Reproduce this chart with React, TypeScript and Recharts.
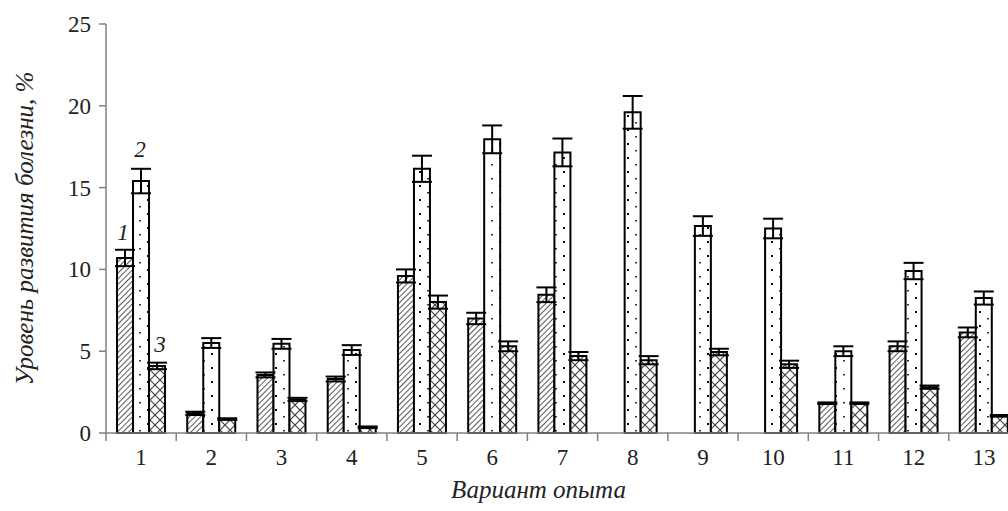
import React from 'react';
import { BarChart, Bar, XAxis, YAxis, ErrorBar, LabelList } from 'recharts';

const categories = ['1', '2', '3', '4', '5', '6', '7', '8', '9', '10', '11', '12', '13'];
const series1 = [10.7, 1.2, 3.55, 3.3, 9.6, 7.0, 8.45, null, null, null, 1.82, 5.3, 6.15];
const series2 = [15.4, 5.5, 5.45, 5.07, 16.15, 17.95, 17.15, 19.6, 12.65, 12.5, 5.0, 9.9, 8.25];
const series3 = [4.1, 0.85, 2.05, 0.35, 8.0, 5.3, 4.7, 4.45, 4.95, 4.2, 1.82, 2.8, 1.05];
const errors1 = [0.5, 0.1, 0.15, 0.15, 0.4, 0.35, 0.45, null, null, null, 0.05, 0.3, 0.3];
const errors2 = [0.75, 0.3, 0.3, 0.3, 0.8, 0.85, 0.85, 1.0, 0.6, 0.6, 0.3, 0.5, 0.4];
const errors3 = [0.2, 0.05, 0.1, 0.05, 0.4, 0.3, 0.25, 0.25, 0.2, 0.22, 0.05, 0.1, 0.05];
const yTicks = [0, 5, 10, 15, 20, 25];
const seriesLabels = ['1', '2', '3'];
const yTitle = 'Уровень развития болезни, %';
const xTitle = 'Вариант опыта';

const data = categories.map((c, i) => ({
  name: c,
  s1: series1[i],
  s2: series2[i],
  s3: series3[i],
  e1: errors1[i],
  e2: errors2[i],
  e3: errors3[i],
}));

const FONT = "'Times New Roman', 'Liberation Serif', 'DejaVu Serif', serif";
const AXIS = '#808080';
const txt = { fontFamily: FONT, fontSize: '23px', fill: '#222' };
const itxt = { ...txt, fontStyle: 'italic' };
const ttl = { ...itxt, fontSize: '25px' };

const XTick = (props: any) => {
  const { x, y, payload, index } = props;
  const off = payload && payload.offset != null ? payload.offset : 0;
  return (
    <g>
      <line x1={x - off} x2={x - off} y1={y} y2={y + 8} stroke={AXIS} strokeWidth={1.5} />
      {index === categories.length - 1 && (
        <line x1={x + off} x2={x + off} y1={y} y2={y + 8} stroke={AXIS} strokeWidth={1.5} />
      )}
      <text x={x} y={y + 32} textAnchor="middle" style={txt}>
        {payload.value}
      </text>
    </g>
  );
};

const YTick = (props: any) => {
  const { x, y, payload } = props;
  return (
    <text x={x} y={y + 8} textAnchor="end" style={txt}>
      {payload.value}
    </text>
  );
};

const makeSeriesLabel = (text: string, dx: number, dy: number) => (props: any) => {
  const { x, y, width, index } = props;
  if (index !== 0) return null;
  return (
    <text x={Number(x) + Number(width) / 2 + dx} y={Number(y) - dy} textAnchor="middle" style={itxt}>
      {text}
    </text>
  );
};

const YTitle = (props: any) => {
  const vb = props.viewBox || {};
  const cx = (vb.x || 0) + 33;
  const cy = (vb.y || 0) + (vb.height || 0) / 2;
  return (
    <text x={cx} y={cy} transform={`rotate(-90 ${cx} ${cy})`} textAnchor="middle" style={ttl}>
      {yTitle}
    </text>
  );
};

const XTitle = (props: any) => {
  const vb = props.viewBox || {};
  const cx = (vb.x || 0) + (vb.width || 0) / 2 - 24;
  const cy = (vb.y || 0) + 65;
  return (
    <text x={cx} y={cy} textAnchor="middle" style={ttl}>
      {xTitle}
    </text>
  );
};

export default function App() {
  return (
    <div style={{ position: 'absolute', left: 0, top: 0, width: 1008, height: 511, overflow: 'hidden', background: '#fff' }}>
      <BarChart
        width={1030}
        height={511}
        data={data}
        margin={{ top: 24, right: 11, left: 0, bottom: 0 }}
        barGap={0}
        barCategoryGap="15.7%"
      >
        <defs>
          <pattern id="pDiag" width="4" height="4" patternUnits="userSpaceOnUse" patternTransform="rotate(45)">
            <rect width="4" height="4" fill="#fff" />
            <line x1="0" y1="0" x2="0" y2="4" stroke="#222" strokeWidth="1.5" />
          </pattern>
          <pattern id="pDots" width="16" height="14" patternUnits="userSpaceOnUse">
            <rect width="16" height="14" fill="#fff" />
            <rect x="3" y="3" width="2" height="2" fill="#111" />
            <rect x="11" y="10" width="2" height="1.5" fill="#333" />
          </pattern>
          <pattern id="pCross" width="10" height="10" patternUnits="userSpaceOnUse">
            <rect width="10" height="10" fill="#fff" />
            <line x1="0" y1="0" x2="10" y2="10" stroke="#444" strokeWidth="1.2" />
            <line x1="10" y1="0" x2="0" y2="10" stroke="#444" strokeWidth="1.2" />
          </pattern>
        </defs>
        <XAxis
          dataKey="name"
          height={78}
          tickLine={false}
          tickSize={0}
          tickMargin={0}
          axisLine={{ stroke: AXIS, strokeWidth: 1.5 }}
          tick={<XTick />}
          interval={0}
          label={<XTitle />}
        />
        <YAxis
          width={106}
          domain={[0, 25]}
          ticks={yTicks}
          interval={0}
          tickSize={7}
          tickMargin={8}
          axisLine={{ stroke: AXIS, strokeWidth: 1.5 }}
          tickLine={{ stroke: AXIS, strokeWidth: 1.5 }}
          tick={<YTick />}
          label={<YTitle />}
        />
        <Bar dataKey="s1" fill="url(#pDiag)" stroke="#000" strokeWidth={2} isAnimationActive={false}>
          <ErrorBar dataKey="e1" width={10} stroke="#000" strokeWidth={2} direction="y" />
          <LabelList dataKey="s1" content={makeSeriesLabel(seriesLabels[0], -2, 18)} />
        </Bar>
        <Bar dataKey="s2" fill="url(#pDots)" stroke="#000" strokeWidth={2} isAnimationActive={false}>
          <ErrorBar dataKey="e2" width={10} stroke="#000" strokeWidth={2} direction="y" />
          <LabelList dataKey="s2" content={makeSeriesLabel(seriesLabels[1], -1, 24)} />
        </Bar>
        <Bar dataKey="s3" fill="url(#pCross)" stroke="#000" strokeWidth={2} isAnimationActive={false}>
          <ErrorBar dataKey="e3" width={10} stroke="#000" strokeWidth={2} direction="y" />
          <LabelList dataKey="s3" content={makeSeriesLabel(seriesLabels[2], 3, 14)} />
        </Bar>
      </BarChart>
    </div>
  );
}
